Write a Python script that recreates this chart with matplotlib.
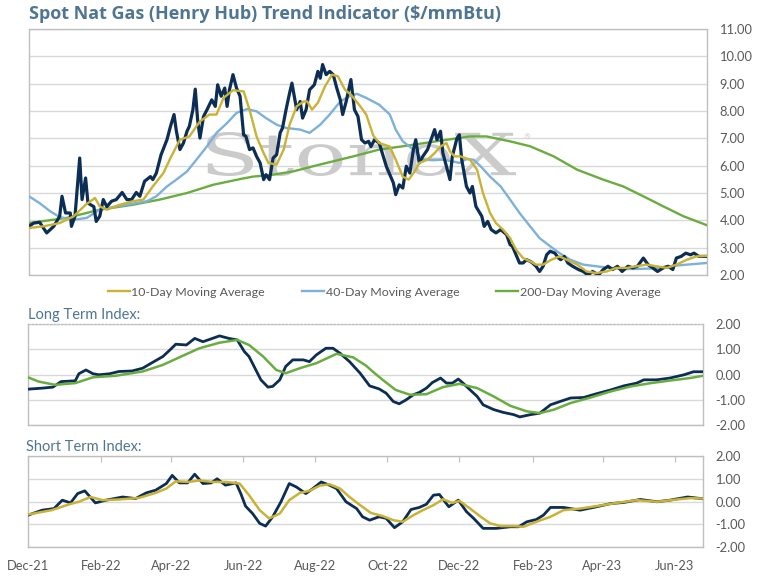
import numpy as np
import pandas as pd
import matplotlib
matplotlib.use('Agg')
import matplotlib.pyplot as plt
import matplotlib.dates as mdates
from matplotlib.textpath import TextPath
from matplotlib.patches import PathPatch
from matplotlib.font_manager import FontProperties
from matplotlib.transforms import Affine2D, IdentityTransform

plt.rcParams['font.family'] = ['Lato', 'DejaVu Sans']

# ---------------price + moving averages--------------- #
price_dates = [
    '2021-12-01', '2021-12-05', '2021-12-10', '2021-12-16', '2021-12-22', '2021-12-27',
    '2021-12-29', '2022-01-01', '2022-01-05', '2022-01-06', '2022-01-09', '2022-01-13',
    '2022-01-15', '2022-01-18', '2022-01-20', '2022-01-25', '2022-01-27', '2022-01-30',
    '2022-02-02', '2022-02-05', '2022-02-09', '2022-02-13', '2022-02-18', '2022-02-22',
    '2022-02-26', '2022-03-02', '2022-03-05', '2022-03-09', '2022-03-14', '2022-03-16',
    '2022-03-19', '2022-03-23', '2022-03-28', '2022-03-31', '2022-04-03', '2022-04-05',
    '2022-04-08', '2022-04-11', '2022-04-14', '2022-04-16', '2022-04-19', '2022-04-21',
    '2022-04-23', '2022-04-25', '2022-04-28', '2022-05-01', '2022-05-05', '2022-05-08',
    '2022-05-10', '2022-05-13', '2022-05-16', '2022-05-18', '2022-05-20', '2022-05-23',
    '2022-05-26', '2022-05-29', '2022-06-01', '2022-06-03', '2022-06-06', '2022-06-09',
    '2022-06-12', '2022-06-15', '2022-06-18', '2022-06-20', '2022-06-23', '2022-06-26',
    '2022-06-29', '2022-07-02', '2022-07-04', '2022-07-07', '2022-07-10', '2022-07-12',
    '2022-07-14', '2022-07-16', '2022-07-19', '2022-07-21', '2022-07-24', '2022-07-27',
    '2022-07-31', '2022-08-03', '2022-08-05', '2022-08-07', '2022-08-10', '2022-08-13',
    '2022-08-16', '2022-08-19', '2022-08-22', '2022-08-24', '2022-08-27', '2022-08-31',
    '2022-09-03', '2022-09-06', '2022-09-09', '2022-09-12', '2022-09-15', '2022-09-17',
    '2022-09-20', '2022-09-24', '2022-09-30', '2022-10-06', '2022-10-08', '2022-10-11',
    '2022-10-14', '2022-10-17', '2022-10-20', '2022-10-23', '2022-10-25', '2022-10-28',
    '2022-10-31', '2022-11-04', '2022-11-07', '2022-11-10', '2022-11-12', '2022-11-15',
    '2022-11-17', '2022-11-20', '2022-11-23', '2022-11-25', '2022-11-29', '2022-12-01',
    '2022-12-03', '2022-12-07', '2022-12-10', '2022-12-12', '2022-12-15', '2022-12-20',
    '2022-12-22', '2022-12-25', '2022-12-28', '2023-01-01', '2023-01-05', '2023-01-10',
    '2023-01-13', '2023-01-15', '2023-01-18', '2023-01-21', '2023-01-24', '2023-01-27',
    '2023-01-30', '2023-02-01', '2023-02-04', '2023-02-07', '2023-02-10', '2023-02-13',
    '2023-02-16', '2023-02-20', '2023-02-23', '2023-02-25', '2023-02-28', '2023-03-03',
    '2023-03-07', '2023-03-12', '2023-03-16', '2023-03-20', '2023-03-24', '2023-03-29',
    '2023-04-02', '2023-04-06', '2023-04-10', '2023-04-14', '2023-04-18', '2023-04-23',
    '2023-04-27', '2023-05-01', '2023-05-06', '2023-05-10', '2023-05-14', '2023-05-18',
    '2023-05-23', '2023-05-27', '2023-05-31', '2023-06-03', '2023-06-07', '2023-06-11',
    '2023-06-15', '2023-06-18', '2023-06-22', '2023-06-25', '2023-06-29']
price = [
    3.78, 3.90, 3.93, 3.54, 3.78, 4.15, 4.88, 4.27, 4.27, 3.78, 4.15, 6.28,
    4.76, 5.55, 4.63, 4.50, 3.96, 4.15, 4.76, 4.50, 4.70, 4.76, 5.02, 4.76,
    4.76, 5.02, 4.88, 5.43, 5.60, 5.49, 5.73, 6.40, 6.95, 7.44, 7.87, 7.26,
    6.59, 6.83, 7.26, 7.44, 8.05, 8.80, 7.68, 7.01, 7.80, 8.05, 8.41, 8.17,
    8.96, 8.54, 8.84, 8.17, 8.78, 9.33, 8.84, 8.54, 7.13, 7.07, 6.59, 6.65,
    6.34, 6.10, 5.49, 5.67, 5.49, 6.28, 6.40, 7.20, 7.38, 8.05, 8.66, 9.02,
    8.54, 8.05, 8.35, 7.74, 8.05, 8.78, 8.96, 9.45, 9.20, 9.70, 9.33, 9.45,
    9.33, 8.84, 8.41, 7.87, 8.35, 9.15, 8.05, 7.80, 6.95, 6.83, 6.89, 6.70,
    6.95, 6.83, 5.98, 5.37, 4.94, 5.30, 5.18, 5.98, 5.73, 6.59, 6.95, 6.10,
    6.34, 6.59, 6.95, 7.32, 6.95, 7.26, 6.46, 5.98, 5.49, 6.34, 7.01, 7.13,
    6.22, 5.24, 5.00, 5.24, 4.51, 4.15, 3.78, 3.96, 3.66, 3.54, 3.66, 3.48,
    3.11, 3.05, 2.74, 2.44, 2.44, 2.56, 2.50, 2.44, 2.32, 2.13, 2.32, 2.74,
    2.87, 2.80, 2.62, 2.56, 2.68, 2.44, 2.32, 2.20, 2.13, 2.00, 2.13, 2.00,
    2.20, 2.32, 2.20, 2.32, 2.13, 2.32, 2.26, 2.32, 2.62, 2.38, 2.26, 2.13,
    2.26, 2.32, 2.20, 2.62, 2.68, 2.80, 2.74, 2.80, 2.68, 2.68, 2.68]

ma10_dates = [
    '2021-12-01', '2021-12-13', '2021-12-27', '2022-01-08', '2022-01-18', '2022-01-26',
    '2022-01-30', '2022-02-05', '2022-02-16', '2022-02-27', '2022-03-08', '2022-03-16',
    '2022-03-25', '2022-03-31', '2022-04-08', '2022-04-16', '2022-04-25', '2022-05-03',
    '2022-05-09', '2022-05-15', '2022-05-23', '2022-06-01', '2022-06-06', '2022-06-12',
    '2022-06-18', '2022-06-22', '2022-06-29', '2022-07-05', '2022-07-10', '2022-07-16',
    '2022-07-22', '2022-07-25', '2022-07-29', '2022-08-03', '2022-08-09', '2022-08-15',
    '2022-08-20', '2022-08-26', '2022-08-31', '2022-09-08', '2022-09-13', '2022-09-19',
    '2022-09-24', '2022-10-03', '2022-10-08', '2022-10-14', '2022-10-19', '2022-10-25',
    '2022-10-28', '2022-11-04', '2022-11-10', '2022-11-15', '2022-11-20', '2022-11-23',
    '2022-11-27', '2022-12-02', '2022-12-10', '2022-12-16', '2022-12-21', '2022-12-27',
    '2023-01-01', '2023-01-07', '2023-01-13', '2023-01-18', '2023-01-24', '2023-01-30',
    '2023-02-04', '2023-02-10', '2023-02-17', '2023-02-24', '2023-03-02', '2023-03-11',
    '2023-03-19', '2023-03-27', '2023-04-05', '2023-04-13', '2023-04-22', '2023-04-30',
    '2023-05-09', '2023-05-17', '2023-05-26', '2023-06-03', '2023-06-12', '2023-06-20',
    '2023-06-29']
ma10 = [
    3.72, 3.78, 3.90, 4.15, 4.57, 4.82, 4.51, 4.39, 4.57, 4.70, 4.76, 5.24,
    5.73, 6.28, 6.95, 7.07, 7.62, 7.87, 7.87, 8.48, 8.76, 8.72, 8.05, 7.07,
    6.46, 6.10, 6.04, 6.59, 7.50, 8.17, 8.35, 8.35, 8.05, 8.30, 8.90, 9.33,
    9.27, 8.78, 8.60, 8.17, 7.87, 7.10, 6.83, 6.70, 6.22, 5.60, 5.49, 5.85,
    6.10, 6.22, 6.46, 6.70, 6.83, 6.52, 6.34, 6.34, 6.22, 5.85, 5.00, 4.27,
    3.90, 3.66, 3.35, 2.93, 2.62, 2.50, 2.38, 2.38, 2.56, 2.68, 2.56, 2.38,
    2.13, 2.07, 2.13, 2.26, 2.26, 2.32, 2.38, 2.32, 2.26, 2.38, 2.56, 2.68,
    2.70]

ma40_dates = [
    '2021-12-01', '2021-12-10', '2021-12-19', '2021-12-27', '2022-01-08', '2022-01-19',
    '2022-01-30', '2022-02-13', '2022-02-27', '2022-03-11', '2022-03-19', '2022-03-28',
    '2022-04-05', '2022-04-14', '2022-04-22', '2022-05-01', '2022-05-09', '2022-05-18',
    '2022-05-26', '2022-06-04', '2022-06-12', '2022-06-20', '2022-06-29', '2022-07-07',
    '2022-07-19', '2022-07-27', '2022-08-05', '2022-08-13', '2022-08-22', '2022-08-30',
    '2022-09-05', '2022-09-13', '2022-09-24', '2022-10-03', '2022-10-08', '2022-10-14',
    '2022-10-23', '2022-10-31', '2022-11-09', '2022-11-17', '2022-11-25', '2022-12-01',
    '2022-12-07', '2022-12-13', '2022-12-19', '2022-12-27', '2023-01-05', '2023-01-13',
    '2023-01-21', '2023-01-30', '2023-02-07', '2023-02-16', '2023-02-24', '2023-03-05',
    '2023-03-16', '2023-03-27', '2023-04-08', '2023-04-19', '2023-04-30', '2023-05-14',
    '2023-05-28', '2023-06-12', '2023-06-29']
ma40 = [
    4.88, 4.63, 4.33, 4.12, 4.02, 4.09, 4.39, 4.51, 4.61, 4.70, 4.88, 5.24,
    5.49, 5.79, 6.22, 6.71, 7.20, 7.56, 7.93, 8.07, 7.99, 7.74, 7.50, 7.38,
    7.32, 7.20, 7.50, 7.87, 8.35, 8.54, 8.63, 8.48, 8.23, 7.87, 7.32, 6.89,
    6.59, 6.22, 6.20, 6.22, 6.16, 6.10, 6.24, 6.22, 5.98, 5.60, 5.24, 4.76,
    4.27, 3.78, 3.35, 3.05, 2.80, 2.56, 2.38, 2.32, 2.26, 2.22, 2.22, 2.24,
    2.32, 2.38, 2.44]

ma200_dates = [
    '2021-12-01', '2022-01-02', '2022-01-30', '2022-02-27', '2022-03-22', '2022-04-14',
    '2022-05-06', '2022-05-29', '2022-06-09', '2022-06-26', '2022-07-13', '2022-07-30',
    '2022-08-16', '2022-09-02', '2022-09-24', '2022-10-14', '2022-11-11', '2022-12-10',
    '2022-12-24', '2023-01-13', '2023-01-30', '2023-02-19', '2023-03-11', '2023-04-02',
    '2023-04-19', '2023-05-06', '2023-05-23', '2023-06-09', '2023-06-29']
ma200 = [
    3.90, 4.09, 4.39, 4.57, 4.76, 5.00, 5.30, 5.51, 5.60, 5.67, 5.79, 5.98,
    6.16, 6.34, 6.59, 6.71, 6.89, 7.07, 7.07, 6.89, 6.71, 6.34, 5.85, 5.49,
    5.24, 4.88, 4.51, 4.15, 3.82]

# ---------------long term index--------------- #
lt_dates = [
    '2021-12-01', '2021-12-13', '2021-12-22', '2021-12-29', '2022-01-10', '2022-01-13',
    '2022-01-19', '2022-01-25', '2022-01-30', '2022-02-08', '2022-02-16', '2022-02-27',
    '2022-03-08', '2022-03-16', '2022-03-25', '2022-03-31', '2022-04-05', '2022-04-14',
    '2022-04-21', '2022-04-28', '2022-05-06', '2022-05-12', '2022-05-20', '2022-05-27',
    '2022-06-02', '2022-06-06', '2022-06-11', '2022-06-16', '2022-06-22', '2022-06-26',
    '2022-07-02', '2022-07-07', '2022-07-13', '2022-07-22', '2022-07-27', '2022-08-02',
    '2022-08-10', '2022-08-16', '2022-08-22', '2022-08-30', '2022-09-08', '2022-09-16',
    '2022-09-24', '2022-09-30', '2022-10-06', '2022-10-11', '2022-10-17', '2022-10-23',
    '2022-10-28', '2022-11-03', '2022-11-08', '2022-11-15', '2022-11-20', '2022-11-25',
    '2022-11-30', '2022-12-04', '2022-12-10', '2022-12-16', '2022-12-21', '2022-12-30',
    '2023-01-07', '2023-01-16', '2023-01-21', '2023-01-30', '2023-02-07', '2023-02-16',
    '2023-02-24', '2023-03-05', '2023-03-16', '2023-03-27', '2023-04-08', '2023-04-19',
    '2023-04-30', '2023-05-06', '2023-05-17', '2023-05-28', '2023-06-09', '2023-06-17',
    '2023-06-25']
lt_index = [
    -0.58, -0.54, -0.50, -0.28, -0.25, 0.03, 0.18, 0.03, -0.01, 0.03, 0.12, 0.14,
    0.25, 0.47, 0.71, 0.97, 1.20, 1.17, 1.43, 1.30, 1.43, 1.53, 1.43, 1.37,
    0.91, 0.71, 0.25, -0.21, -0.50, -0.47, -0.21, 0.32, 0.58, 0.58, 0.51, 0.78,
    1.04, 1.04, 0.84, 0.51, 0.05, -0.45, -0.57, -0.74, -1.07, -1.16, -1.00, -0.80,
    -0.71, -0.54, -0.32, -0.14, -0.34, -0.34, -0.18, -0.34, -0.61, -0.87, -1.20, -1.39,
    -1.50, -1.59, -1.68, -1.59, -1.53, -1.20, -1.07, -0.93, -0.91, -0.76, -0.61, -0.45,
    -0.34, -0.21, -0.21, -0.14, -0.01, 0.11, 0.11]

lt_sig_dates = [
    '2021-12-01', '2021-12-10', '2021-12-24', '2022-01-10', '2022-01-25', '2022-02-13',
    '2022-03-08', '2022-03-25', '2022-04-08', '2022-04-25', '2022-05-12', '2022-05-27',
    '2022-06-06', '2022-06-18', '2022-06-29', '2022-07-07', '2022-07-19', '2022-08-02',
    '2022-08-19', '2022-09-02', '2022-09-13', '2022-09-19', '2022-09-27', '2022-10-08',
    '2022-10-20', '2022-11-03', '2022-11-17', '2022-12-01', '2022-12-16', '2022-12-30',
    '2023-01-13', '2023-01-27', '2023-02-07', '2023-02-19', '2023-03-05', '2023-03-22',
    '2023-04-08', '2023-04-25', '2023-05-12', '2023-05-28', '2023-06-14', '2023-06-25']
lt_signal = [
    -0.11, -0.28, -0.41, -0.34, -0.11, -0.05, 0.12, 0.38, 0.68, 1.04, 1.26, 1.37,
    1.17, 0.71, 0.18, 0.05, 0.25, 0.45, 0.82, 0.68, 0.35, 0.10, -0.21, -0.61,
    -0.80, -0.78, -0.50, -0.37, -0.54, -0.87, -1.24, -1.46, -1.53, -1.39, -1.13, -0.91,
    -0.67, -0.47, -0.34, -0.24, -0.14, -0.05]

# ---------------short term index--------------- #
st_dates = [
    '2021-12-01', '2021-12-13', '2021-12-23', '2021-12-30', '2022-01-06', '2022-01-12',
    '2022-01-18', '2022-01-27', '2022-02-05', '2022-02-19', '2022-03-02', '2022-03-11',
    '2022-03-19', '2022-03-28', '2022-04-02', '2022-04-08', '2022-04-15', '2022-04-21',
    '2022-04-28', '2022-05-05', '2022-05-10', '2022-05-17', '2022-05-26', '2022-05-30',
    '2022-06-03', '2022-06-09', '2022-06-15', '2022-06-20', '2022-06-26', '2022-07-03',
    '2022-07-10', '2022-07-16', '2022-07-24', '2022-07-30', '2022-08-06', '2022-08-13',
    '2022-08-19', '2022-08-27', '2022-09-05', '2022-09-10', '2022-09-16', '2022-09-24',
    '2022-09-30', '2022-10-07', '2022-10-14', '2022-10-21', '2022-10-28', '2022-11-03',
    '2022-11-09', '2022-11-14', '2022-11-22', '2022-11-30', '2022-12-07', '2022-12-13',
    '2022-12-21', '2023-01-01', '2023-01-13', '2023-01-20', '2023-01-27', '2023-02-04',
    '2023-02-10', '2023-02-16', '2023-02-27', '2023-03-13', '2023-03-27', '2023-04-08',
    '2023-04-19', '2023-05-03', '2023-05-17', '2023-05-28', '2023-06-12', '2023-06-25']
st_index = [
    -0.60, -0.38, -0.31, 0.06, -0.06, 0.35, 0.47, -0.06, 0.06, 0.20, 0.13, 0.38,
    0.50, 0.79, 1.15, 0.82, 0.82, 1.20, 0.79, 0.82, 1.00, 0.72, 0.82, 0.35,
    -0.20, -0.53, -0.96, -1.08, -0.67, -0.01, 0.79, 0.64, 0.35, 0.57, 0.86, 0.72,
    0.57, -0.01, -0.31, -0.67, -0.82, -0.67, -0.74, -1.15, -0.89, -0.35, -0.26, -0.12,
    0.28, 0.31, -0.23, 0.06, -0.45, -0.74, -1.18, -1.18, -1.11, -1.11, -0.89, -0.79,
    -0.60, -0.26, -0.26, -0.38, -0.23, -0.09, -0.04, 0.09, -0.01, 0.06, 0.20, 0.12]

st_sig_dates = [
    '2021-12-01', '2021-12-21', '2022-01-05', '2022-01-13', '2022-01-23', '2022-02-02',
    '2022-02-16', '2022-03-05', '2022-03-19', '2022-03-28', '2022-04-05', '2022-04-16',
    '2022-04-25', '2022-05-06', '2022-05-18', '2022-05-29', '2022-06-06', '2022-06-15',
    '2022-06-23', '2022-07-02', '2022-07-10', '2022-07-19', '2022-07-27', '2022-08-05',
    '2022-08-13', '2022-08-22', '2022-08-30', '2022-09-08', '2022-09-17', '2022-09-27',
    '2022-10-06', '2022-10-14', '2022-10-23', '2022-10-31', '2022-11-09', '2022-11-17',
    '2022-11-25', '2022-12-01', '2022-12-10', '2022-12-19', '2022-12-27', '2023-01-05',
    '2023-01-16', '2023-01-24', '2023-02-04', '2023-02-16', '2023-02-27', '2023-03-13',
    '2023-03-27', '2023-04-13', '2023-04-30', '2023-05-17', '2023-06-03', '2023-06-14',
    '2023-06-25']
st_signal = [
    -0.57, -0.38, -0.12, -0.01, 0.20, 0.06, 0.09, 0.16, 0.38, 0.57, 0.89, 0.86,
    0.93, 0.86, 0.86, 0.79, 0.28, -0.38, -0.74, -0.53, 0.06, 0.38, 0.47, 0.70,
    0.76, 0.57, 0.20, -0.16, -0.50, -0.64, -0.82, -0.89, -0.60, -0.38, -0.16, 0.10,
    -0.06, 0.03, -0.31, -0.67, -0.96, -1.08, -1.08, -1.11, -0.89, -0.67, -0.38, -0.31,
    -0.20, -0.06, 0.06, -0.01, 0.09, 0.15, 0.13]

NAVY = '#0c2d54'
GOLD = '#c9b234'
BLUE = '#7db1da'
GREEN = '#6aad3f'
GRID = '#d9d9d9'
FRAME = '#bfbfbf'
TXT = '#595959'
TITLE = '#4f7592'


def style_panel(ax, lo, hi):
    ax.set_ylim(lo, hi)
    ax.yaxis.tick_right()
    ax.tick_params(axis='y', length=0, labelsize=9.3, labelcolor=TXT, pad=9)
    ax.yaxis.set_major_formatter(plt.FuncFormatter(lambda v, p: '{:.2f}'.format(v)))
    ax.grid(axis='y', color=GRID, lw=1)
    ax.set_axisbelow(True)
    for s in ax.spines.values():
        s.set_color(FRAME)
        s.set_linewidth(1)


def to_dt(lst):
    return pd.to_datetime(lst)


fig = plt.figure(figsize=(7.59, 5.78), dpi=100)
ax1 = fig.add_axes([0.0382, 0.5242, 0.8933, 0.4256])
ax2 = fig.add_axes([0.0369, 0.2647, 0.8893, 0.1747])
ax3 = fig.add_axes([0.0369, 0.0536, 0.8893, 0.1574])

# ---------------top panel--------------- #
ax1.plot(to_dt(ma200_dates), ma200, c=GREEN, lw=1.7, zorder=3, label='200-Day Moving Average')
ax1.plot(to_dt(ma40_dates), ma40, c=BLUE, lw=1.7, zorder=4, label='40-Day Moving Average')
ax1.plot(to_dt(price_dates), price, c=NAVY, lw=2.3, zorder=5)
ax1.plot(to_dt(ma10_dates), ma10, c=GOLD, lw=1.7, zorder=6, label='10-Day Moving Average')
style_panel(ax1, 2, 11)
ax1.set_yticks(np.arange(2, 12, 1))
ax1.set_xlim(pd.Timestamp('2021-12-01'), pd.Timestamp('2023-06-29'))
ax1.set_xticks([])
h, l = ax1.get_legend_handles_labels()
ax1.legend(h[::-1], l[::-1], loc='center', bbox_to_anchor=(0.524, -0.07), ncol=3,
           frameon=False, fontsize=8.9, labelcolor=TXT, handlelength=1.75,
           handletextpad=0.15, columnspacing=3.0, borderaxespad=0)

# watermark
tp = TextPath((0, 0), 'StoneX', size=60, prop=FontProperties(family='DejaVu Serif'))
ext = tp.get_extents()
sx = (516 - 207) / ext.width
sy = (446 - 402) / ext.height
trans = Affine2D().translate(-ext.x0, -ext.y0).scale(sx, sy).translate(207, 402)
wm = PathPatch(trans.transform_path(tp), facecolor='#cbcbcb', edgecolor='none',
               transform=IdentityTransform(), zorder=2, clip_on=False)
ax1.add_artist(wm)
fig.text(527 / 759, 1 - 137 / 578, '®', fontsize=6, color='#c9c9c9', ha='center', va='center')

fig.text(29 / 759, 1 - 14 / 578, 'Spot Nat Gas (Henry Hub) Trend Indicator ($/mmBtu)',
         fontsize=13, fontweight='bold', color=TITLE, ha='left', va='center',
         family=['Open Sans', 'DejaVu Sans'])

# ---------------long term index--------------- #
ax2.plot(to_dt(lt_dates), lt_index, c=NAVY, lw=2.0, zorder=3)
ax2.plot(to_dt(lt_sig_dates), lt_signal, c=GREEN, lw=1.8, zorder=4)
style_panel(ax2, -2, 2)
ax2.set_yticks([-2, -1, 0, 1, 2])
ax2.set_xlim(pd.Timestamp('2021-12-01'), pd.Timestamp('2023-06-25'))
ax2.set_xticks([])
ax2.spines['top'].set_linestyle(':')
fig.text(28 / 759, 1 - 315 / 578, 'Long Term Index:', fontsize=10.5, color=TITLE,
         ha='left', va='center')

# ---------------short term index--------------- #
ax3.plot(to_dt(st_dates), st_index, c=NAVY, lw=2.0, zorder=3)
ax3.plot(to_dt(st_sig_dates), st_signal, c=GOLD, lw=1.8, zorder=4)
style_panel(ax3, -2, 2)
ax3.set_yticks([-2, -1, 0, 1, 2])
ax3.set_xlim(pd.Timestamp('2021-12-01'), pd.Timestamp('2023-06-25'))
ax3.xaxis.set_major_locator(mdates.MonthLocator(bymonth=[12, 2, 4, 6, 8, 10]))
ax3.xaxis.set_major_formatter(mdates.DateFormatter('%b-%y'))
ax3.tick_params(axis='x', top=True, bottom=False, labeltop=False, labelbottom=True,
                direction='in', length=4, color=FRAME, labelsize=9.3, labelcolor=TXT, pad=9)
fig.text(26 / 759, 1 - 447 / 578, 'Short Term Index:', fontsize=10.5, color=TITLE,
         ha='left', va='center')

fig.savefig('out.png', dpi=100, facecolor='white')
